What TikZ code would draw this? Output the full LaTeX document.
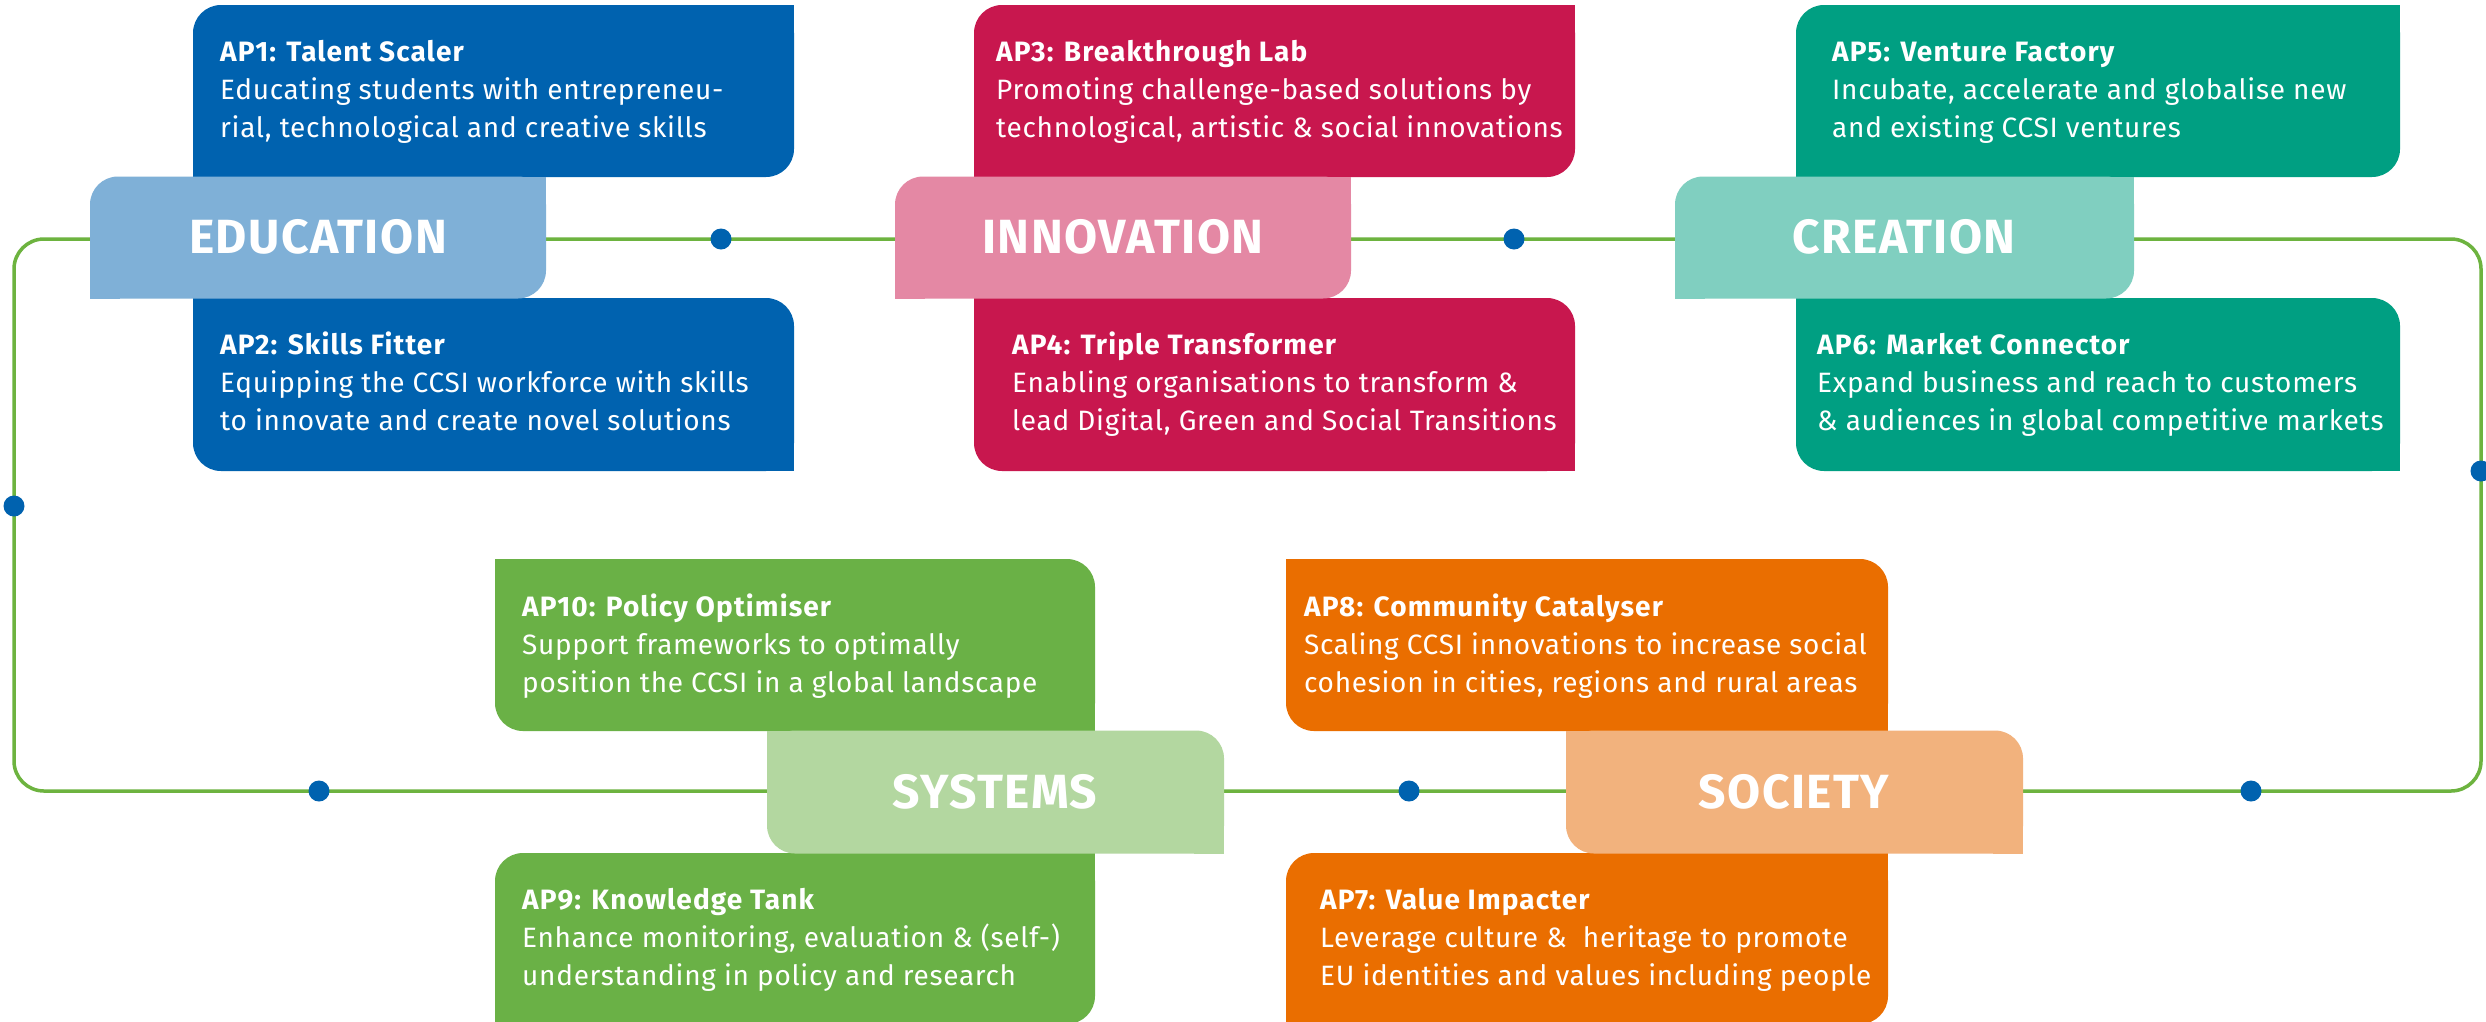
\documentclass[tikz,border=0pt]{standalone}
\usepackage{fontspec}
\setmainfont{Fira Sans}
\newfontfamily\bodyfont[LetterSpace=2.5]{Fira Sans}
\newfontfamily\titlefont[LetterSpace=4]{Fira Sans}
\newfontfamily\headfont[LetterSpace=3]{Fira Sans}
\definecolor{edudark}{HTML}{0062AF}
\definecolor{edulight}{HTML}{7FB0D7}
\definecolor{innodark}{HTML}{C8174E}
\definecolor{innolight}{HTML}{E488A4}
\definecolor{creadark}{HTML}{009F82}
\definecolor{crealight}{HTML}{80CFC0}
\definecolor{sysdark}{HTML}{6AB146}
\definecolor{syslight}{HTML}{B3D7A0}
\definecolor{socdark}{HTML}{EA6E00}
\definecolor{soclight}{HTML}{F2B27D}
\definecolor{loopgreen}{HTML}{6DB33F}
\definecolor{dotblue}{HTML}{0062AF}
% rounded top-left and bottom-right
\newcommand\leafA[5]{%
  \fill[#5,rounded corners=28pt] (#1,#2) rectangle (#3,#4);
  \fill[#5] (#3-30,#2) rectangle (#3,#2+30);
  \fill[#5] (#1,#4-30) rectangle (#1+30,#4);}
% rounded top-right and bottom-left
\newcommand\leafB[5]{%
  \fill[#5,rounded corners=28pt] (#1,#2) rectangle (#3,#4);
  \fill[#5] (#1,#2) rectangle (#1+30,#2+30);
  \fill[#5] (#3-30,#4-30) rectangle (#3,#4);}
\newcommand\aptext[6]{%
  \node[aptitle] (#1t) at (#2,#3) {#4};
  \node[apline] (#1a) at (#2,#3+38) {#5};
  \node[apline] (#1b) at (#2,#3+76) {#6};}
\begin{document}
\begin{tikzpicture}[x=1pt,y=-1pt,
  aptitle/.style={anchor=base west,inner sep=0pt,text=white,font=\titlefont\fontsize{28}{38}\selectfont\bfseries},
  apline/.style={anchor=base west,inner sep=0pt,text=white,font=\bodyfont\fontsize{28}{38}\selectfont},
  heading/.style={anchor=base,inner sep=0pt,text=white,font=\headfont\fontsize{48}{52}\selectfont\bfseries},
  loopline/.style={draw=loopgreen,line width=3.5pt},
  dot/.style={circle,fill=dotblue,minimum size=21pt,inner sep=0pt}]
\clip (0,0) rectangle (2486,1021);
\fill[white] (0,0) rectangle (2486,1021);
% loop
\draw[loopline,rounded corners=30pt] (14,239) rectangle (2481,791);
\node[dot] (d1) at (721,239) {};
\node[dot] (d2) at (1514,239) {};
\node[dot] (d3) at (2481,471) {};
\node[dot] (d4) at (14,506) {};
\node[dot] (d5) at (319,791) {};
\node[dot] (d6) at (1409,791) {};
\node[dot] (d7) at (2251,791) {};
% top row boxes
\leafA{193}{5}{794}{177}{edudark}
\leafB{193}{298}{794}{471}{edudark}
\leafA{90}{176.5}{546}{298.5}{edulight}
\leafA{974}{5}{1575}{177}{innodark}
\leafB{974}{298}{1575}{471}{innodark}
\leafA{895}{176.5}{1351}{298.5}{innolight}
\leafA{1796}{5}{2400}{177}{creadark}
\leafB{1796}{298}{2400}{471}{creadark}
\leafA{1675}{176.5}{2134}{298.5}{crealight}
% bottom row boxes
\leafB{495}{559}{1095}{731}{sysdark}
\leafA{495}{853}{1095}{1024}{sysdark}
\leafB{767}{730.5}{1224}{853.5}{syslight}
\leafB{1286}{559}{1888}{731}{socdark}
\leafA{1286}{853}{1888}{1024}{socdark}
\leafB{1566}{730.5}{2023}{853.5}{soclight}
% headings
\node[heading] (edu) at (318,253) {EDUCATION};
\node[heading] (inno) at (1123,253) {INNOVATION};
\node[heading] (crea) at (1904,253) {CREATION};
\node[heading] (sys) at (995,808) {SYSTEMS};
\node[heading] (soc) at (1794,808) {SOCIETY};
% texts
\aptext{ap1}{220}{61}{AP1: Talent Scaler}{Educating students with entrepreneu-}{rial, technological and creative skills}
\aptext{ap2}{220}{354}{AP2: Skills Fitter}{Equipping the CCSI workforce with skills}{to innovate and create novel solutions}
\aptext{ap3}{996}{61}{AP3: Breakthrough Lab}{Promoting challenge-based solutions by}{technological, artistic \& social innovations}
\aptext{ap4}{1012}{354}{AP4: Triple Transformer}{Enabling organisations to transform \&}{lead Digital, Green and Social Transitions}
\aptext{ap5}{1832}{61}{AP5: Venture Factory}{Incubate, accelerate and globalise new}{and existing CCSI ventures}
\aptext{ap6}{1817}{354}{AP6: Market Connector}{Expand business and reach to customers}{\& audiences in global competitive markets}
\aptext{ap10}{522}{616}{AP10: Policy Optimiser}{Support frameworks to optimally}{position the CCSI in a global landscape}
\aptext{ap9}{522}{909}{AP9: Knowledge Tank}{Enhance monitoring, evaluation \& (self-)}{understanding in policy and research}
\aptext{ap8}{1304}{616}{AP8: Community Catalyser}{Scaling CCSI innovations to increase social}{cohesion in cities, regions and rural areas}
\aptext{ap7}{1320}{909}{AP7: Value Impacter}{Leverage culture \&~ heritage to promote}{EU identities and values including people}
\end{tikzpicture}
\end{document}
